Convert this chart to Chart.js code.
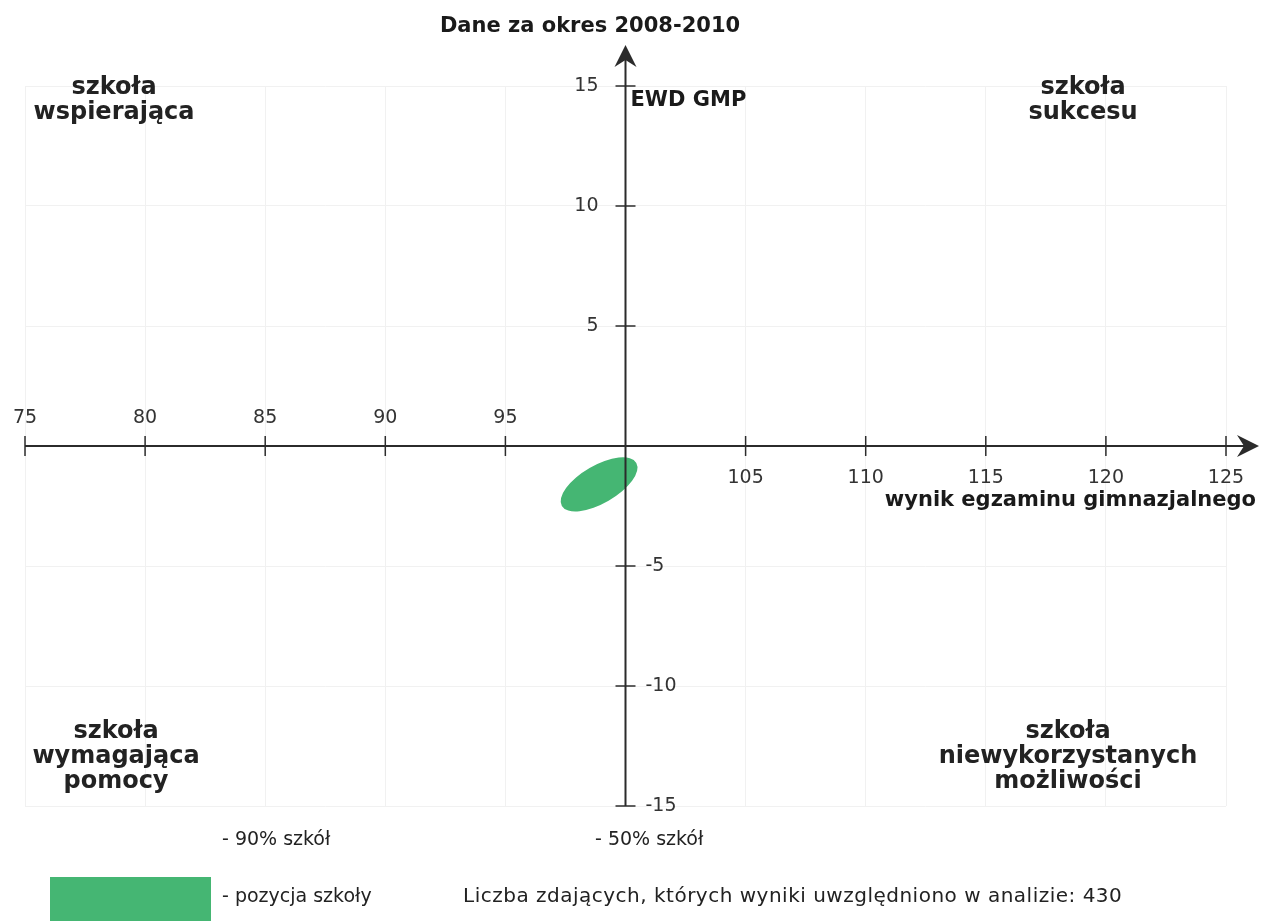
<!DOCTYPE html>
<html>
<head>
<meta charset="utf-8">
<script src="https://cdn.jsdelivr.net/npm/chart.js@4.4.1/dist/chart.umd.min.js"></script>
<style>
  html, body { margin: 0; padding: 0; background: #fff; }
  #wrap { width: 1261px; height: 921px; position: relative; }
</style>
</head>
<body>
<div id="wrap"><canvas id="ewd"></canvas></div>
<script>
const xTicks = [75, 80, 85, 90, 95, 100, 105, 110, 115, 120, 125];
const yTicks = [-15, -10, -5, 0, 5, 10, 15];
const schoolPosition = [{ x: 98.9, y: -1.6 }];
const ellipseRadii = [1.79, 0.79];   // semi-axes in score units
const ellipseAngle = 30;             // degrees
const titleText = 'Dane za okres 2008-2010';
const yAxisTitle = 'EWD GMP';
const xAxisTitle = 'wynik egzaminu gimnazjalnego';
const quadrantTopLeft = ['szkoła', 'wspierająca'];
const quadrantTopRight = ['szkoła', 'sukcesu'];
const quadrantBottomLeft = ['szkoła', 'wymagająca', 'pomocy'];
const quadrantBottomRight = ['szkoła', 'niewykorzystanych', 'możliwości'];
const legendLabels = ['- 90% szkół', '- 50% szkół', '- pozycja szkoły'];
const countText = 'Liczba zdających, których wyniki uwzględniono w analizie: 430';

const GREEN = '#45b673';
const AXIS = '#2b2b2b';
const FONT = '"DejaVu Sans", sans-serif';

function drawArrow(ctx, tipX, tipY, dirX, dirY) {
    const len = 22, half = 11, notch = 7;
    const px = -dirY, py = dirX;
    ctx.beginPath();
    ctx.moveTo(tipX, tipY);
    ctx.lineTo(tipX - dirX * len + px * half, tipY - dirY * len + py * half);
    ctx.lineTo(tipX - dirX * (len - notch), tipY - dirY * (len - notch));
    ctx.lineTo(tipX - dirX * len - px * half, tipY - dirY * len - py * half);
    ctx.closePath();
    ctx.fill();
}

function drawLines(ctx, lines, cx, cy, step) {
    lines.forEach((t, i) => ctx.fillText(t, cx, cy + i * step));
}

const ewdPlugin = {
    id: 'ewdPlugin',
    afterDatasetsDraw(chart) {
        const { ctx, chartArea } = chart;
        const xs = chart.scales.x;
        const ys = chart.scales.y;

        // school position ellipse
        const pt = chart.getDatasetMeta(0).data[0];
        const rx = xs.getPixelForValue(100 + ellipseRadii[0]) - xs.getPixelForValue(100);
        const ry = ys.getPixelForValue(0) - ys.getPixelForValue(ellipseRadii[1]);
        ctx.save();
        ctx.fillStyle = GREEN;
        ctx.beginPath();
        ctx.ellipse(pt.x, pt.y, rx, ry, -ellipseAngle * Math.PI / 180, 0, Math.PI * 2);
        ctx.fill();

        // axes crossing at (100, 0)
        const ax = xs.getPixelForValue(100);
        const ay = ys.getPixelForValue(0);
        ctx.strokeStyle = AXIS;
        ctx.fillStyle = AXIS;
        ctx.lineWidth = 2;
        ctx.beginPath();
        ctx.moveTo(xs.getPixelForValue(xTicks[0]), ay);
        ctx.lineTo(chartArea.right + 30, ay);
        ctx.moveTo(ax, ys.getPixelForValue(yTicks[0]));
        ctx.lineTo(ax, chartArea.top - 38);
        ctx.stroke();
        drawArrow(ctx, chartArea.right + 33, ay, 1, 0);
        drawArrow(ctx, ax, chartArea.top - 41, 0, -1);

        ctx.lineWidth = 1.5;
        ctx.font = '19px ' + FONT;
        ctx.fillStyle = '#333';
        ctx.textBaseline = 'middle';
        xTicks.forEach(v => {
            if (v === 100) return;
            const px = xs.getPixelForValue(v);
            ctx.beginPath();
            ctx.moveTo(px, ay - 10);
            ctx.lineTo(px, ay + 10);
            ctx.stroke();
            ctx.textAlign = 'center';
            ctx.fillText(String(v), px, v < 100 ? ay - 28 : ay + 32);
        });
        yTicks.forEach(v => {
            if (v === 0) return;
            const py = ys.getPixelForValue(v);
            ctx.beginPath();
            ctx.moveTo(ax - 10, py);
            ctx.lineTo(ax + 10, py);
            ctx.stroke();
            if (v > 0) {
                ctx.textAlign = 'right';
                ctx.fillText(String(v), ax - 27, py);
            } else {
                ctx.textAlign = 'left';
                ctx.fillText(String(v), ax + 20, py);
            }
        });

        // titles
        ctx.fillStyle = '#1a1a1a';
        ctx.font = 'bold 21px ' + FONT;
        ctx.textAlign = 'center';
        ctx.fillText(titleText, 590, 27);
        ctx.textAlign = 'left';
        ctx.fillText(yAxisTitle, ax + 5, chartArea.top + 15);
        ctx.textAlign = 'right';
        ctx.fillText(xAxisTitle, chartArea.right + 30, ay + 55);

        // quadrant names
        ctx.fillStyle = '#222';
        ctx.font = 'bold 24px ' + FONT;
        ctx.textAlign = 'center';
        drawLines(ctx, quadrantTopLeft, 114, 88, 25);
        drawLines(ctx, quadrantTopRight, 1083, 88, 25);
        drawLines(ctx, quadrantBottomLeft, 116, 732, 25);
        drawLines(ctx, quadrantBottomRight, 1068, 732, 25);

        // legend
        ctx.font = '19px ' + FONT;
        ctx.textAlign = 'left';
        ctx.fillText(legendLabels[0], 222, 840);
        ctx.fillText(legendLabels[1], 595, 840);
        ctx.fillText(legendLabels[2], 222, 897);
        ctx.font = '20px ' + FONT;
        ctx.letterSpacing = '0.5px';
        ctx.fillText(countText, 463, 897);
        ctx.letterSpacing = '0px';
        ctx.fillStyle = GREEN;
        ctx.fillRect(50, 877, 161, 50);
        ctx.restore();
    }
};

new Chart(document.getElementById('ewd'), {
    type: 'scatter',
    data: {
        datasets: [{
            label: 'pozycja szkoły',
            data: schoolPosition,
            pointRadius: 0,
            pointHoverRadius: 0,
            backgroundColor: GREEN
        }]
    },
    options: {
        responsive: true,
        maintainAspectRatio: false,
        animation: false,
        events: [],
        layout: { padding: { left: 25, right: 35, top: 86, bottom: 115 } },
        plugins: {
            legend: { display: false },
            title: { display: false },
            tooltip: { enabled: false }
        },
        scales: {
            x: {
                type: 'linear',
                min: xTicks[0],
                max: xTicks[xTicks.length - 1],
                position: { y: 0 },
                ticks: { display: false, stepSize: 5 },
                grid: { color: '#f1f1f1', lineWidth: 1, drawTicks: false },
                border: { display: false }
            },
            y: {
                type: 'linear',
                min: yTicks[0],
                max: yTicks[yTicks.length - 1],
                position: { x: 100 },
                ticks: { display: false, stepSize: 5 },
                grid: { color: '#f1f1f1', lineWidth: 1, drawTicks: false },
                border: { display: false }
            }
        }
    },
    plugins: [ewdPlugin]
});
</script>
</body>
</html>
